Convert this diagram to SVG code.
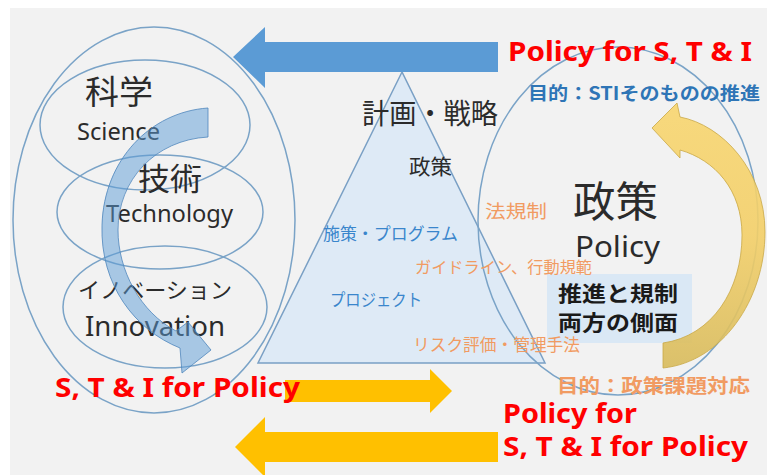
<svg xmlns="http://www.w3.org/2000/svg" width="767" height="475" viewBox="0 0 767 475">
<defs>
<linearGradient id="ygrad" x1="0" y1="0" x2="0" y2="1">
<stop offset="0" stop-color="#f8d670"/>
<stop offset="0.5" stop-color="#f3cf68"/>
<stop offset="1" stop-color="#d8bb5c"/>
</linearGradient>
</defs>
<style>
.ell{fill:none;stroke:#7aa3c7;stroke-width:1.5}
.jp{font-family:"Noto Sans CJK JP","Noto Sans",sans-serif}
.lat{font-family:"Noto Sans","Noto Sans CJK JP",sans-serif}
.dark{fill:#2b2b2b}
.red{fill:#ff0000;font-weight:bold;font-family:"Noto Sans","Noto Sans CJK JP",sans-serif}
.blue{fill:#3a86cc}
.orange{fill:#f19b62}
.yarrow{fill:#ffc000}
</style>
<rect x="0" y="0" width="767" height="475" fill="#ffffff"/>
<rect x="10" y="8" width="757" height="467" fill="#f2f2f2"/>

<g id="policy-pyramid">
<polygon points="402,72 258,363 545,363" fill="#deeaf6" stroke="#7aa0c5" stroke-width="1.5"/>
<text class="jp dark" x="362" y="124" font-size="28" textLength="136" lengthAdjust="spacingAndGlyphs">計画・戦略</text>
<text class="jp dark" x="409" y="174" font-size="21" textLength="43" lengthAdjust="spacingAndGlyphs">政策</text>
<text class="jp blue" x="323" y="240" font-size="17" textLength="135" lengthAdjust="spacingAndGlyphs">施策・プログラム</text>
<text class="jp blue" x="330" y="306" font-size="17" textLength="92" lengthAdjust="spacingAndGlyphs">プロジェクト</text>
</g>

<g id="sti-outer">
<ellipse class="ell" cx="154" cy="220" rx="141" ry="193"/>
</g>
<g id="science">
<ellipse class="ell" cx="145" cy="125" rx="105" ry="65"/>
<text class="jp dark" x="85" y="104" font-size="33" textLength="68" lengthAdjust="spacingAndGlyphs">科学</text>
<text class="lat dark" x="77" y="140" font-size="23" textLength="83" lengthAdjust="spacingAndGlyphs">Science</text>
</g>
<g id="technology">
<ellipse class="ell" cx="160" cy="212" rx="103" ry="57"/>
<text class="jp dark" x="138" y="190" font-size="31" textLength="64" lengthAdjust="spacingAndGlyphs">技術</text>
<text class="lat dark" x="106" y="222" font-size="24" textLength="127" lengthAdjust="spacingAndGlyphs">Technology</text>
</g>
<g id="innovation">
<ellipse class="ell" cx="165" cy="307" rx="102" ry="61"/>
<text class="jp dark" x="78" y="298" font-size="22" textLength="154" lengthAdjust="spacingAndGlyphs">イノベーション</text>
<text class="lat dark" x="85" y="336" font-size="27" textLength="140" lengthAdjust="spacingAndGlyphs">Innovation</text>
</g>

<g id="policy-circle">
<ellipse class="ell" cx="618" cy="221" rx="140" ry="174"/>
<text class="jp dark" x="573" y="217" font-size="42" textLength="85" lengthAdjust="spacingAndGlyphs">政策</text>
<text class="lat dark" x="575" y="257" font-size="29" textLength="85" lengthAdjust="spacingAndGlyphs">Policy</text>
</g>

<g id="both-aspects">
<rect x="547" y="274" width="145" height="69" fill="#dae8f5"/>
<text class="jp" fill="#1a1a1a" font-weight="bold" x="558" y="301" font-size="21" textLength="120" lengthAdjust="spacingAndGlyphs">推進と規制</text>
<text class="jp" fill="#1a1a1a" font-weight="bold" x="558" y="330" font-size="21" textLength="120" lengthAdjust="spacingAndGlyphs">両方の側面</text>
</g>

<g id="regulation-labels">
<text class="jp orange" x="485" y="218" font-size="18" textLength="62" lengthAdjust="spacingAndGlyphs">法規制</text>
<text class="jp orange" x="415" y="273" font-size="16" textLength="177" lengthAdjust="spacingAndGlyphs">ガイドライン、行動規範</text>
<text class="jp orange" x="413" y="351" font-size="16.5" textLength="167" lengthAdjust="spacingAndGlyphs">リスク評価・管理手法</text>
</g>

<g id="connectors">
<polygon points="498,42 265,42 265,27 233,57 265,88 265,72 498,72" fill="#5b9bd5"/>
<path d="M208,108 C150,112 104,160 102,225 C100,285 135,330 180,348 L182,373 L211,350 L188,322 L176,331 C140,312 118,270 118,230 C118,180 155,140 208,137 Z" fill="#5b9bd5" fill-opacity="0.5" stroke="#4f86bd" stroke-width="0.8"/>
<path d="M677,103 L652,128 L680,158 L680,150 C715,160 742,190 742,235 C742,290 712,336 663,343 L663,368 C722,362 765,300 765,232 C765,170 722,125 680,117 Z" fill="url(#ygrad)" fill-opacity="0.9" stroke="#c9a846" stroke-width="0.8"/>
<polygon class="yarrow" points="285,380 430,380 430,369 452,391 430,413 430,402 285,402"/>
<polygon class="yarrow" points="498,432 265,432 265,417 235,447 265,477 265,462 498,462"/>
</g>

<g id="arrow-labels">
<text class="red" x="508" y="61" font-size="27" textLength="244" lengthAdjust="spacingAndGlyphs">Policy for S, T &amp; I</text>
<text class="jp" fill="#2e75b6" font-weight="bold" x="528" y="100" font-size="18" textLength="232" lengthAdjust="spacingAndGlyphs">目的：STIそのものの推進</text>
<text class="red" x="55" y="397" font-size="27" textLength="245" lengthAdjust="spacingAndGlyphs">S, T &amp; I for Policy</text>
<text class="jp orange" font-weight="bold" x="557" y="393" font-size="19" textLength="193" lengthAdjust="spacingAndGlyphs">目的：政策課題対応</text>
<text class="red" x="503" y="423" font-size="26" textLength="134" lengthAdjust="spacingAndGlyphs">Policy for</text>
<text class="red" x="503" y="456" font-size="26" textLength="245" lengthAdjust="spacingAndGlyphs">S, T &amp; I for Policy</text>
</g>
</svg>
